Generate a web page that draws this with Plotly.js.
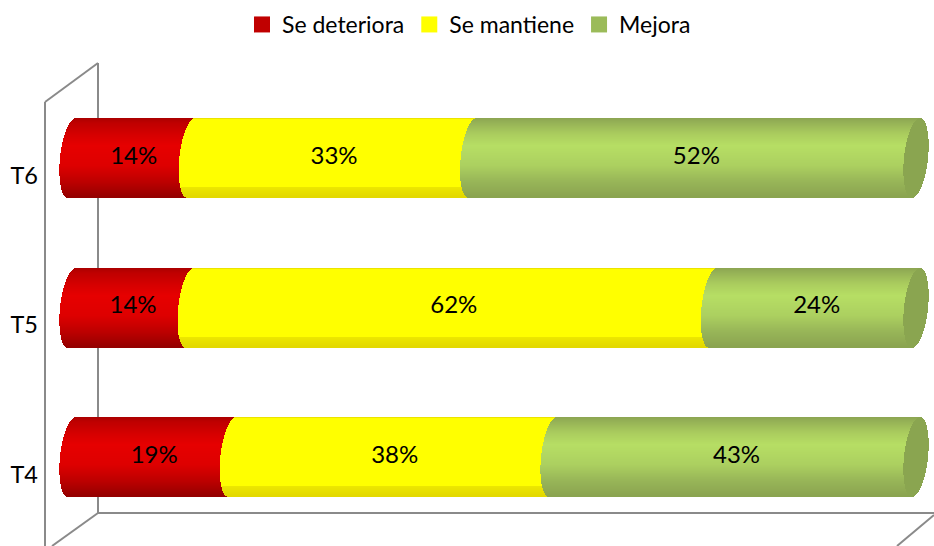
<!DOCTYPE html>
<html>
<head>
<meta charset="utf-8">
<script src="https://cdn.plot.ly/plotly-3.0.1.min.js"></script>
<style>html,body{margin:0;padding:0;background:#fff}</style>
</head>
<body>
<div id="plotter" style="width:934px;height:546px"></div>
<script>
var categories = ['T4', 'T5', 'T6'];
var seDeteriora = [19, 14, 14];
var seMantiene = [38, 62, 33];
var mejora = [43, 24, 52];
var seriesNames = ['Se deteriora', 'Se mantiene', 'Mejora'];
var legendColors = ['#c00000', '#ffff00', '#9bbb59'];

// vertical shading of each cylinder, [position top to bottom, r, g, b]
var redShade = [[0, 170, 0, 0], [0.06, 190, 0, 0], [0.2, 212, 0, 0], [0.35, 230, 0, 0], [0.6, 222, 0, 0], [0.8, 190, 0, 0], [1, 148, 0, 0]];
var yellowShade = [[0, 226, 214, 0], [0.02, 255, 255, 0], [0.87, 255, 255, 0], [0.88, 236, 230, 0], [1, 226, 216, 0]];
var greenShade = [[0, 140, 165, 82], [0.06, 150, 178, 86], [0.2, 170, 204, 94], [0.35, 182, 222, 100], [0.6, 172, 208, 96], [0.8, 152, 182, 88], [1, 138, 163, 80]];
var capColor = 'rgb(138,165,80)';

// page layout in pixels
var W = 934, H = 546, left = 39;
var pxPerPct = 8.44, zeroPx = 60;
var pitch = 149.5, firstTickPx = 474.5;
var barH = 79, barShift = 17.5, labelShift = 18;
var bend = 12 / pxPerPct, tilt = 4 / pxPerPct;
var labelNudge = 2 / pxPerPct;
var N = 79;

function shadeAt(stops, f) {
    for (var i = 1; i < stops.length; i++) {
        if (f <= stops[i][0]) {
            var a = stops[i - 1], b = stops[i];
            var k = (f - a[0]) / (b[0] - a[0]);
            return 'rgb(' + [1, 2, 3].map(function (c) {
                return Math.round(a[c] + (b[c] - a[c]) * k);
            }).join(',') + ')';
        }
    }
    return 'rgb(' + stops[stops.length - 1].slice(1).join(',') + ')';
}

function edge(t) {
    return bend * (1 - Math.sqrt(1 - t * t)) - tilt * t;
}

function band(idx, k) {
    var f = (k + 0.5) / N;
    return {f: f, t: f * 2 - 1, y: idx + barShift / pitch + (1 - 2 * f) * (barH / 2) / pitch};
}

function emptyTrace(color) {
    return {type: 'bar', orientation: 'h', x: [], y: [], base: [], width: [],
        marker: {color: color || [], line: {width: 0}}, showlegend: false, hoverinfo: 'skip'};
}

var red = emptyTrace(), yellow = emptyTrace(), green = emptyTrace(), cap = emptyTrace(capColor);
var labelX = [], labelY = [], labelText = [];

categories.forEach(function (c, idx) {
    var sum = seDeteriora[idx] + seMantiene[idx] + mejora[idx];
    var c1 = seDeteriora[idx] / sum * 100;
    var c2 = (seDeteriora[idx] + seMantiene[idx]) / sum * 100;
    for (var k = 0; k < N; k++) {
        var b = band(idx, k);
        var e = edge(b.t);
        var half = bend * Math.sqrt(1 - b.t * b.t);
        var mid = 100 + bend - tilt * b.t;
        [[red, e, c1 + 2 * bend + tilt - e, redShade],
         [yellow, c1 + e, c2 - c1 + 2 * bend + tilt - e, yellowShade],
         [green, c2 + e, mid + half - c2 - e, greenShade]].forEach(function (s) {
            s[0].y.push(b.y);
            s[0].base.push(s[1]);
            s[0].x.push(s[2]);
            s[0].width.push(barH / N / pitch * 1.02);
            s[0].marker.color.push(shadeAt(s[3], b.f));
        });
        cap.y.push(b.y);
        cap.base.push(mid - half);
        cap.x.push(half * 2);
        cap.width.push(barH / N / pitch * 1.02);
    }
    [[0, c1, seDeteriora[idx]], [c1, c2, seMantiene[idx]], [c2, 100, mejora[idx]]].forEach(function (p) {
        labelX.push((p[0] + p[1]) / 2 + bend + labelNudge);
        labelY.push(idx + labelShift / pitch);
        labelText.push(p[2] + '%');
    });
});

var labels = {type: 'scatter', mode: 'text', x: labelX, y: labelY, text: labelText,
    textposition: 'middle center', textfont: {family: 'Lato', size: 24, color: '#000'},
    showlegend: false, hoverinfo: 'skip', cliponaxis: false};

var legendTraces = seriesNames.map(function (name, i) {
    return {type: 'scatter', mode: 'markers', x: [null], y: [null], name: name,
        marker: {symbol: 'square', size: 16, color: legendColors[i]}};
});

function wall(x0, y0, x1, y1) {
    return {type: 'line', layer: 'below', xref: 'paper', yref: 'paper',
        x0: (x0 - left) / (W - left), x1: (x1 - left) / (W - left),
        y0: 1 - y0 / H, y1: 1 - y1 / H,
        line: {color: '#8a8a8a', width: 2}};
}

var layout = {
    width: W, height: H,
    margin: {l: left, r: 0, t: 0, b: 0},
    paper_bgcolor: '#fff', plot_bgcolor: 'rgba(0,0,0,0)',
    barmode: 'overlay', bargap: 0,
    font: {family: 'Lato', color: '#000'},
    showlegend: true,
    legend: {orientation: 'h', x: (242 - left) / (W - left), y: 1 - 3 / H, xanchor: 'left', yanchor: 'top',
        font: {family: 'Lato', size: 23, color: '#000'}, itemsizing: 'trace', itemwidth: 30,
        bgcolor: 'rgba(0,0,0,0)', traceorder: 'normal'},
    xaxis: {visible: false, range: [(left - zeroPx) / pxPerPct, (W - zeroPx) / pxPerPct], fixedrange: true},
    yaxis: {range: [(firstTickPx - H) / pitch, firstTickPx / pitch], tickmode: 'array', tickvals: [0, 1, 2],
        ticktext: categories, tickfont: {family: 'Lato', size: 23.5, color: '#000'},
        showgrid: false, zeroline: false, showline: false, ticks: '', ticklen: 0, fixedrange: true},
    shapes: [
        wall(45, 102, 98, 63),
        wall(45, 102, 45, 546),
        wall(98, 63, 98, 513),
        wall(98, 513, 934, 513),
        wall(98, 513, 52, 546),
        wall(934, 515, 897, 546)
    ]
};

Plotly.newPlot('plotter', [red, yellow, green, cap, labels].concat(legendTraces), layout, {displayModeBar: false});
</script>
</body>
</html>
